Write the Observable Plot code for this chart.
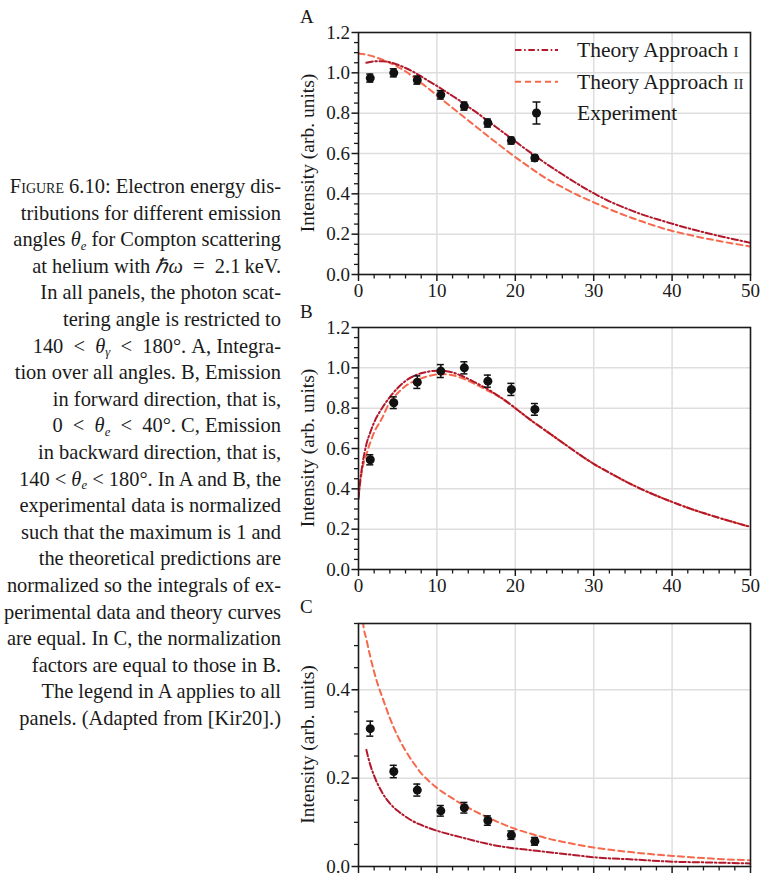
<!DOCTYPE html>
<html><head><meta charset="utf-8">
<script src="https://cdn.jsdelivr.net/npm/d3@7"></script>
<script src="https://cdn.jsdelivr.net/npm/@observablehq/plot@0.6"></script>
<style>
body{margin:0;background:#fff;width:762px;height:874px;overflow:hidden;position:relative;font-family:"Liberation Serif",serif;color:#1a1a1a}
#caption{position:absolute;right:481px;top:173px;text-align:right;white-space:nowrap;font-size:20px;line-height:26.6px}
#caption i{font-style:italic}
#caption sub{font-size:0.62em;line-height:0;vertical-align:baseline;position:relative;top:0.3em}
.sc{font-variant:small-caps}
.panel{position:absolute;left:290px}
.letter{position:absolute;left:300px;font-size:19px}
</style></head><body>
<div id="caption"><span class="sc">Figure</span> 6.10: Electron energy dis-<br>tributions for different emission<br>angles <i>θ<sub>e</sub></i> for Compton scattering<br>at helium with <i>ℏω</i> &nbsp;= &nbsp;2.1&#8201;keV.<br>In all panels, the photon scat-<br>tering angle is restricted to<br>140 &nbsp;&lt; &nbsp;<i>θ<sub>γ</sub></i> &nbsp;&lt; &nbsp;180°. A, Integra-<br>tion over all angles. B, Emission<br>in forward direction, that is,<br>0 &nbsp;&lt; &nbsp;<i>θ<sub>e</sub></i> &nbsp;&lt; &nbsp;40°. C, Emission<br>in backward direction, that is,<br>140 &lt; <i>θ<sub>e</sub></i> &lt; 180°. In A and B, the<br>experimental data is normalized<br>such that the maximum is 1 and<br>the theoretical predictions are<br>normalized so the integrals of ex-<br>perimental data and theory curves<br>are equal. In C, the normalization<br>factors are equal to those in B.<br>The legend in A applies to all<br>panels. (Adapted from [Kir20].)</div>
<div class="letter" style="top:6px">A</div>
<div class="letter" style="top:301px">B</div>
<div class="letter" style="top:596px">C</div>
<div id="pA" class="panel" style="top:0px"></div>
<div id="pB" class="panel" style="top:300px"></div>
<div id="pC" class="panel" style="top:600px"></div>
<script>
// ---- data ----
const xExp = [1.5, 4.5, 7.5, 10.5, 13.5, 16.5, 19.5, 22.5];
const expA = [0.974, 1.000, 0.964, 0.891, 0.835, 0.751, 0.664, 0.578];
const errA = [0.020, 0.020, 0.020, 0.021, 0.020, 0.020, 0.017, 0.016];
const expB = [0.544, 0.827, 0.929, 0.984, 1.000, 0.934, 0.893, 0.794];
const errB = [0.025, 0.029, 0.031, 0.032, 0.030, 0.030, 0.030, 0.029];
const expC = [0.312, 0.215, 0.173, 0.126, 0.133, 0.104, 0.071, 0.057];
const errC = [0.017, 0.014, 0.0136, 0.012, 0.012, 0.0106, 0.0095, 0.0087];

const thIA_x = [1,2,3,4,5,6,7,8,9,10,11,12,13,14,15,16,17,18,19,20,21,22,23,24,25,26,27,28,29,30,32,34,36,38,40,42,44,46,48,50];
const thIA_y = [1.050,1.057,1.058,1.052,1.040,1.024,1.005,0.982,0.958,0.935,0.910,0.885,0.860,0.832,0.805,0.776,0.747,0.718,0.689,0.660,0.631,0.603,0.575,0.548,0.522,0.497,0.472,0.448,0.425,0.403,0.363,0.330,0.300,0.275,0.252,0.230,0.210,0.191,0.174,0.157];
const thIIA_x = [0,1,2,3,4,5,6,7,8,9,10,11,12,13,14,15,16,17,18,19,20,21,22,23,24,25,26,27,28,29,30,32,34,36,38,40,42,44,46,48,50];
const thIIA_y = [1.096,1.090,1.080,1.066,1.050,1.030,1.007,0.980,0.950,0.920,0.888,0.857,0.826,0.795,0.764,0.733,0.702,0.671,0.641,0.611,0.582,0.554,0.527,0.500,0.475,0.453,0.433,0.412,0.393,0.375,0.358,0.324,0.293,0.265,0.239,0.216,0.198,0.181,0.166,0.152,0.139];

const thIB_x = [0,0.25,0.5,1,1.5,2,3,4,5,6,7,8,9,10,11,12,13,14,15,16,17,18,19,20,22,24,26,28,30,32,34,36,38,40,42,44,46,48,50];
const thIB_y = [0.35,0.45,0.52,0.62,0.68,0.73,0.80,0.855,0.90,0.935,0.958,0.973,0.982,0.986,0.985,0.977,0.963,0.945,0.925,0.905,0.882,0.857,0.830,0.800,0.740,0.685,0.630,0.575,0.524,0.480,0.438,0.400,0.366,0.335,0.306,0.280,0.256,0.233,0.211];
const thIIB_x = [0,0.25,0.5,1,1.5,2,3,4,5,6,7,8,9,10,11,12,13,14,15,16,17,18,19,20,22,24,26,28,30,32,34,36,38,40,42,44,46,48,50];
const thIIB_y = [0.36,0.44,0.50,0.57,0.63,0.68,0.75,0.83,0.875,0.91,0.932,0.948,0.960,0.967,0.968,0.963,0.952,0.936,0.917,0.897,0.877,0.855,0.829,0.800,0.740,0.685,0.630,0.575,0.524,0.480,0.438,0.400,0.366,0.335,0.306,0.280,0.256,0.233,0.211];

const thIC_x = [1,1.5,2,3,4,5,6,7,8,9,10,12,14,16,18,20,22,24,26,28,30,35,40,45,50];
const thIC_y = [0.264,0.230,0.205,0.168,0.143,0.126,0.113,0.102,0.094,0.087,0.081,0.071,0.062,0.053,0.046,0.041,0.037,0.033,0.029,0.025,0.021,0.016,0.011,0.009,0.007];
const thIIC_x = [0.4,0.6,1,1.5,2,2.5,3,4,5,6,7,8,9,10,12,14,16,18,20,22,24,26,28,30,35,40,45,50];
const thIIC_y = [0.60,0.55,0.515,0.475,0.44,0.41,0.385,0.336,0.295,0.262,0.235,0.211,0.193,0.178,0.154,0.133,0.115,0.099,0.085,0.074,0.064,0.056,0.049,0.043,0.032,0.024,0.018,0.014];

const xMajor = [0,10,20,30,40,50];
const xMinor = [2,4,6,8,12,14,16,18,22,24,26,28,32,34,36,38,42,44,46,48];
const xGrid = [10,20,30,40];
const yMajorAB = [0,0.2,0.4,0.6,0.8,1.0,1.2];
const yMajorC = [0,0.2,0.4];
const yLabel = "Intensity (arb. units)";
const legendLabels = ["Theory Approach ", "Theory Approach ", "Experiment"];
const legendNumerals = ["i", "ii", ""];

const colI = "#b2182b", colII = "#f6694c";
const dashI = "6.5,2.6,1.6,2.6", dashII = "6,4";

function pts(xs, ys){ return xs.map((x,i)=>({x, y: ys[i]})); }

function panel(el, {mt, mb, yDomain, yMajor, curves, ey, ee, legend, xLabels = true}) {
  const W = 472, H = 300;
  const exp = xExp.map((x,i)=>({x, y: ey[i], e: ee[i]}));
  const yMinor = d3.range(0, yDomain[1] + 1e-9, 0.05).map(v=>+v.toFixed(2)).filter(v => !yMajor.some(m => Math.abs(m-v) < 1e-6));
  const yGrid = yMajor.filter(v => v > 0 && v < yDomain[1] - 1e-6);
  const marks = [
    Plot.gridX({ticks: xGrid, stroke: "#dedede", strokeOpacity: 1, strokeWidth: 1.5}),
    Plot.gridY({ticks: yGrid, stroke: "#dedede", strokeOpacity: 1, strokeWidth: 1.5}),
    ...curves.map(c => Plot.line(pts(c.xs, c.ys), {x: "x", y: "y", stroke: c.color, strokeWidth: 2, strokeDasharray: c.dash, clip: true, curve: "monotone-x"})),
    Plot.ruleX(exp, {x: "x", y1: d=>d.y-d.e, y2: d=>d.y+d.e, stroke: "#111", strokeWidth: 1.5}),
    Plot.ruleY(exp, {y: d=>d.y-d.e, x1: d=>d.x-0.45, x2: d=>d.x+0.45, stroke: "#111", strokeWidth: 1.5}),
    Plot.ruleY(exp, {y: d=>d.y+d.e, x1: d=>d.x-0.45, x2: d=>d.x+0.45, stroke: "#111", strokeWidth: 1.5}),
    Plot.dot(exp, {x: "x", y: "y", r: 4.5, fill: "#111", stroke: "none"}),
    Plot.frame({stroke: "#1a1a1a", strokeWidth: 1.6}),
    Plot.axisX({ticks: xMajor, tickSize: 7, tickPadding: 2, tickFormat: xLabels ? (d => String(d)) : (() => ""), strokeWidth: 1.5, label: null}),
    Plot.axisX({ticks: xMinor, tickSize: 4.5, tickFormat: () => "", strokeWidth: 1.3, label: null}),
    Plot.axisY({ticks: yMajor, tickSize: 6.5, tickPadding: 2, tickFormat: d => d.toFixed(1), strokeWidth: 1.5, label: null}),
    Plot.axisY({ticks: yMinor, tickSize: 4, tickFormat: () => "", strokeWidth: 1.3, label: null})
  ];
  const svg = Plot.plot({
    width: W, height: H, marginLeft: 68, marginRight: 12, marginTop: mt, marginBottom: mb,
    x: {domain: [0, 50], label: null},
    y: {domain: yDomain, label: null},
    style: {fontFamily: "Liberation Serif", fontSize: "19px", color: "#1a1a1a", background: "transparent", overflow: "visible"},
    marks
  });
  const s = d3.select(svg);
  s.append("text")
    .attr("transform", `translate(17,${(mt + H - mb)/2}) rotate(-90)`)
    .attr("text-anchor", "middle").attr("dominant-baseline", "central")
    .attr("fill", "#1a1a1a").style("font-size", "19.5px")
    .text(yLabel);
  if (legend) {
    const rows = [50, 81.7, 113];
    const g = s.append("g").attr("text-anchor", "start");
    const lx1 = 225, lx2 = 268, tx = 287;
    g.append("line").attr("x1", lx1).attr("x2", lx2).attr("y1", rows[0]).attr("y2", rows[0])
      .attr("stroke", colI).attr("stroke-width", 2).attr("stroke-dasharray", dashI);
    g.append("line").attr("x1", lx1).attr("x2", lx2).attr("y1", rows[1]).attr("y2", rows[1])
      .attr("stroke", colII).attr("stroke-width", 2).attr("stroke-dasharray", dashII);
    const mx = (lx1 + lx2)/2, my = rows[2];
    g.append("line").attr("x1", mx).attr("x2", mx).attr("y1", my-11).attr("y2", my+11).attr("stroke", "#111").attr("stroke-width", 1.5);
    g.append("line").attr("x1", mx-4).attr("x2", mx+4).attr("y1", my-11).attr("y2", my-11).attr("stroke", "#111").attr("stroke-width", 1.5);
    g.append("line").attr("x1", mx-4).attr("x2", mx+4).attr("y1", my+11).attr("y2", my+11).attr("stroke", "#111").attr("stroke-width", 1.5);
    g.append("circle").attr("cx", mx).attr("cy", my).attr("r", 4.5).attr("fill", "#111");
    legendLabels.forEach((lab, i) => {
      const t = g.append("text").attr("x", tx).attr("y", rows[i]).attr("dominant-baseline", "central")
        .attr("text-anchor", "start").attr("fill", "#1a1a1a").style("font-size", "21.5px");
      t.append("tspan").text(lab);
      if (legendNumerals[i]) t.append("tspan").style("font-variant", "small-caps").text(legendNumerals[i]);
    });
  }
  document.getElementById(el).appendChild(svg);
}

panel("pA", {mt: 32, mb: 26, yDomain: [0, 1.2], yMajor: yMajorAB, ey: expA, ee: errA, legend: true,
  curves: [
    {xs: thIIA_x, ys: thIIA_y, color: colII, dash: dashII},
    {xs: thIA_x, ys: thIA_y, color: colI, dash: dashI}
  ]});
panel("pB", {mt: 27, mb: 31, yDomain: [0, 1.2], yMajor: yMajorAB, ey: expB, ee: errB,
  curves: [
    {xs: thIIB_x, ys: thIIB_y, color: colII, dash: dashII},
    {xs: thIB_x, ys: thIB_y, color: colI, dash: dashI}
  ]});
// panel C: its x tick labels fall below the visible page in the reference, so none are drawn
panel("pC", {mt: 23, mb: 34, yDomain: [0, 0.55], yMajor: yMajorC, ey: expC, ee: errC, xLabels: false,
  curves: [
    {xs: thIIC_x, ys: thIIC_y, color: colII, dash: dashII},
    {xs: thIC_x, ys: thIC_y, color: colI, dash: dashI}
  ]});

// fit caption width to the reference column (right edge ~281px, widest line ~277px)
(function(){
  const cap = document.getElementById("caption");
  const w = cap.getBoundingClientRect().width;
  const fs = 20 * 277 / w;
  cap.style.fontSize = fs.toFixed(2) + "px";
})();
</script>
</body></html>
